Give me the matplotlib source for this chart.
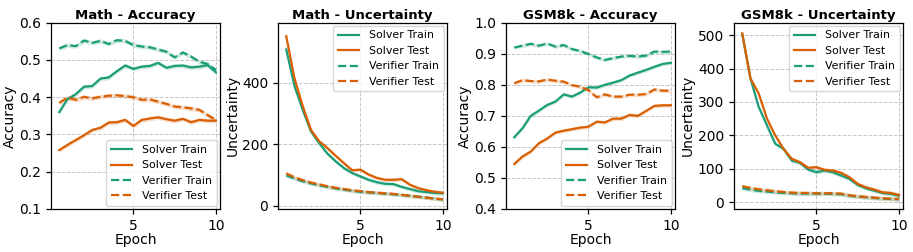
import matplotlib.pyplot as plt
import numpy as np

# epochs (half-epoch checkpoints)
epochs = np.arange(1, 21) * 0.5

# Math - Accuracy
math_acc_solver_train = [0.360, 0.395, 0.408, 0.428, 0.430, 0.450, 0.453, 0.470, 0.485, 0.476,
                         0.482, 0.484, 0.492, 0.479, 0.484, 0.485, 0.480, 0.482, 0.486, 0.467]
math_acc_solver_test = [0.258, 0.272, 0.285, 0.298, 0.312, 0.318, 0.332, 0.333, 0.339, 0.323,
                        0.339, 0.343, 0.346, 0.341, 0.337, 0.342, 0.333, 0.339, 0.337, 0.337]
math_acc_verifier_train = [0.531, 0.540, 0.537, 0.552, 0.546, 0.551, 0.543, 0.553, 0.551, 0.540,
                           0.536, 0.534, 0.528, 0.522, 0.507, 0.520, 0.509, 0.495, 0.489, 0.473]
math_acc_verifier_test = [0.385, 0.399, 0.393, 0.401, 0.397, 0.401, 0.404, 0.405, 0.403, 0.400,
                          0.393, 0.394, 0.388, 0.382, 0.375, 0.373, 0.370, 0.366, 0.352, 0.339]

# Math - Uncertainty
math_unc_solver_train = [508, 389, 311, 241, 203, 169, 144, 122, 106, 95,
                         84, 76, 71, 70, 61, 54, 47, 44, 41, 40]
math_unc_solver_test = [551, 414, 324, 246, 209, 187, 162, 138, 115, 117,
                        101, 90, 84, 84, 86, 68, 57, 50, 45, 42]
math_unc_verifier_train = [98, 88, 79, 72, 66, 61, 56, 52, 48, 45,
                           43, 41, 39, 37, 35, 32, 29, 26, 23, 20]
math_unc_verifier_test = [105, 92, 83, 75, 69, 63, 58, 54, 50, 47,
                          44, 42, 40, 38, 35, 32, 29, 26, 23, 20]

# GSM8k - Accuracy
gsm_acc_solver_train = [0.631, 0.660, 0.700, 0.717, 0.735, 0.746, 0.769, 0.762, 0.775, 0.792,
                        0.791, 0.800, 0.807, 0.815, 0.830, 0.839, 0.848, 0.858, 0.867, 0.871]
gsm_acc_solver_test = [0.545, 0.569, 0.585, 0.612, 0.627, 0.646, 0.652, 0.657, 0.662, 0.665,
                       0.681, 0.679, 0.691, 0.691, 0.703, 0.700, 0.716, 0.732, 0.734, 0.734]
gsm_acc_verifier_train = [0.920, 0.926, 0.932, 0.926, 0.933, 0.923, 0.928, 0.915, 0.909, 0.899,
                          0.888, 0.880, 0.886, 0.891, 0.893, 0.891, 0.894, 0.907, 0.906, 0.907]
gsm_acc_verifier_test = [0.805, 0.815, 0.812, 0.811, 0.817, 0.813, 0.810, 0.799, 0.794, 0.783,
                         0.760, 0.769, 0.762, 0.762, 0.768, 0.768, 0.770, 0.785, 0.781, 0.781]

# GSM8k - Uncertainty
gsm_unc_solver_train = [503, 370, 285, 230, 175, 160, 125, 118, 98, 90,
                        95, 90, 80, 70, 52, 42, 35, 28, 25, 20]
gsm_unc_solver_test = [505, 370, 325, 250, 200, 160, 130, 120, 103, 105,
                       97, 95, 88, 75, 55, 45, 38, 30, 28, 22]
gsm_unc_verifier_train = [42, 38, 34, 32, 30, 28, 27, 26, 26, 26,
                          26, 25, 24, 20, 17, 15, 13, 11, 10, 9]
gsm_unc_verifier_test = [48, 43, 39, 36, 33, 31, 29, 28, 28, 27,
                         27, 27, 26, 21, 18, 16, 14, 12, 11, 10]

series_labels = ["Solver Train", "Solver Test", "Verifier Train", "Verifier Test"]
titles = ["Math - Accuracy", "Math - Uncertainty", "GSM8k - Accuracy", "GSM8k - Uncertainty"]
ylabels = ["Accuracy", "Uncertainty", "Accuracy", "Uncertainty"]

GREEN = "#1b9e77"
ORANGE = "#d95f02"

panels = [
    dict(data=[math_acc_solver_train, math_acc_solver_test,
               math_acc_verifier_train, math_acc_verifier_test],
         band=0.006, ylim=(0.1, 0.6), yticks=np.arange(0.1, 0.61, 0.1),
         fmt="{:.1f}", loc="lower right"),
    dict(data=[math_unc_solver_train, math_unc_solver_test,
               math_unc_verifier_train, math_unc_verifier_test],
         band=6, ylim=(-11, 595), yticks=[0, 200, 400],
         fmt="{:.0f}", loc="upper right"),
    dict(data=[gsm_acc_solver_train, gsm_acc_solver_test,
               gsm_acc_verifier_train, gsm_acc_verifier_test],
         band=0.006, ylim=(0.4, 1.0), yticks=np.arange(0.4, 1.01, 0.1),
         fmt="{:.1f}", loc="lower right"),
    dict(data=[gsm_unc_solver_train, gsm_unc_solver_test,
               gsm_unc_verifier_train, gsm_unc_verifier_test],
         band=6, ylim=(-20, 537), yticks=[0, 100, 200, 300, 400, 500],
         fmt="{:.0f}", loc="upper right"),
]

styles = [(GREEN, "-"), (ORANGE, "-"), (GREEN, "--"), (ORANGE, "--")]

fig = plt.figure(figsize=(9.13, 2.52), dpi=100)

lefts_px = [51, 278, 506, 734]
width_px = 169
bottom_px = 252 - 209
height_px = 209 - 22.7

for i, p in enumerate(panels):
    ax = fig.add_axes([lefts_px[i] / 913, bottom_px / 252, width_px / 913, height_px / 252])
    for vals, (c, ls), lab in zip(p["data"], styles, series_labels):
        vals = np.asarray(vals, dtype=float)
        ax.fill_between(epochs, vals - p["band"], vals + p["band"], color=c, alpha=0.2, lw=0)
        ax.plot(epochs, vals, color=c, ls=ls, lw=1.6, label=lab)

    ax.set_xlim(0, 10.25)
    ax.set_ylim(*p["ylim"])
    ax.set_xticks([5, 10])
    ax.set_yticks(p["yticks"])
    ax.set_yticklabels([p["fmt"].format(v) for v in p["yticks"]])
    ax.tick_params(labelsize=10, length=3.5, width=0.9)
    for s in ax.spines.values():
        s.set_linewidth(0.9)
    ax.grid(True, ls="--", lw=0.7, color="#b0b0b0", alpha=0.7)
    ax.set_axisbelow(True)
    ax.set_title(titles[i], fontsize=9.5, fontweight="bold", pad=3)
    ax.set_xlabel("Epoch", fontsize=10, labelpad=0)
    ax.set_ylabel(ylabels[i], fontsize=10, labelpad=2)
    ax.legend(loc=p["loc"], fontsize=7.9, borderaxespad=0.3, handletextpad=0.9)

fig.savefig("out.png", dpi=100)
